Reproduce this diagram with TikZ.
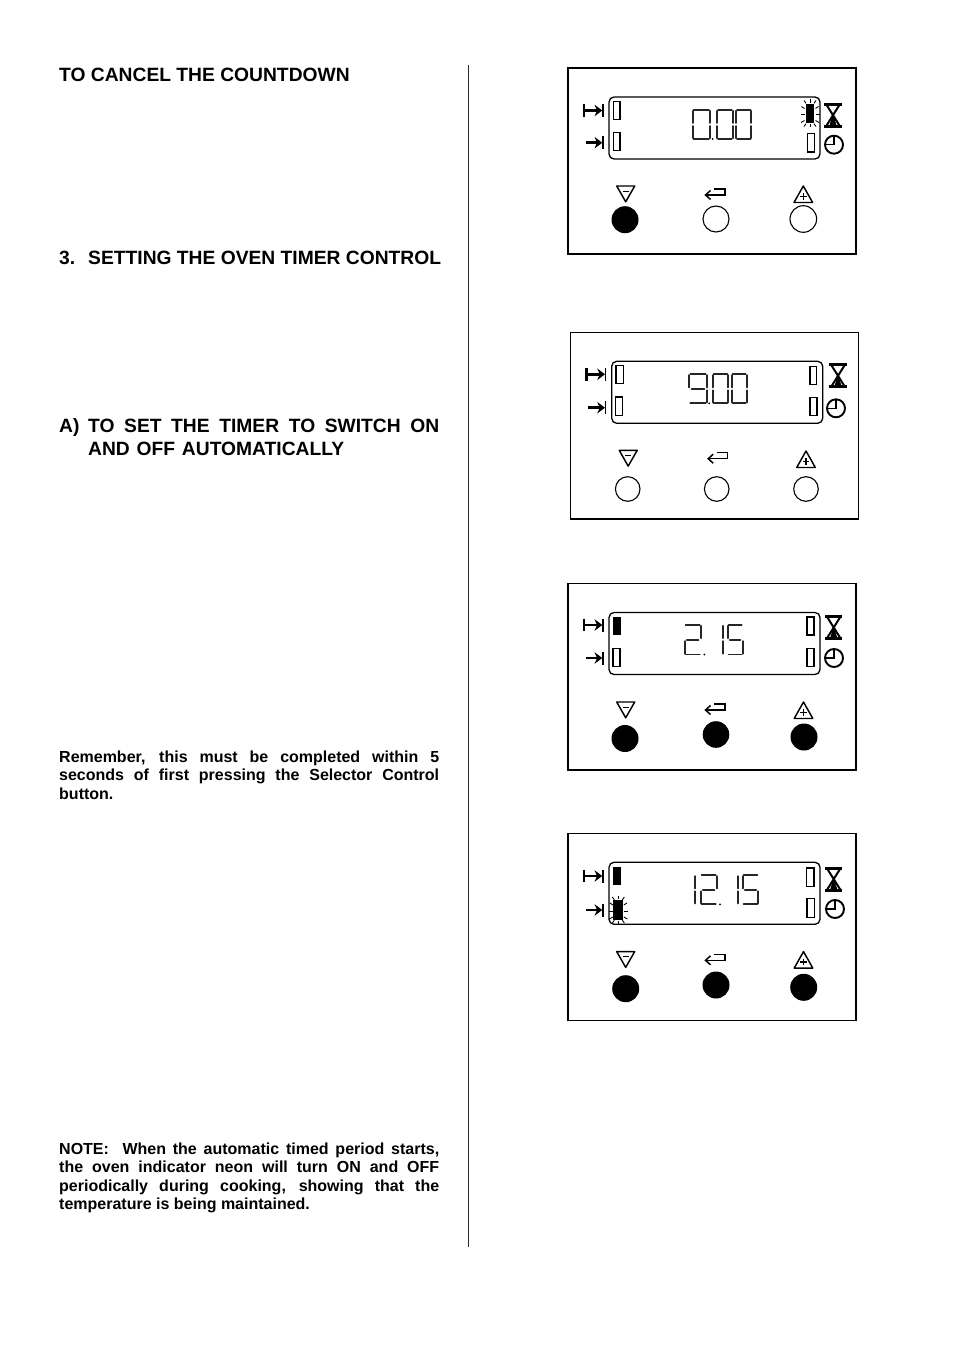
\documentclass[tikz,border=0pt]{standalone}
\usepackage{fontspec}
\setmainfont{Liberation Sans}
\tikzset{
  thinline/.style={line width=.85pt,black!85},
  segline/.style={line width=1.9pt,black!85,line cap=round},
  panelbox/.style={line width=1.35pt,black},
  lcdbox/.style={line width=1.3pt,black,rounded corners=5pt},
  heading/.style={inner sep=0pt,anchor=base west,font=\fontsize{19.25}{24}\selectfont\bfseries},
  bodytext/.style={inner sep=0pt,anchor=north west,align=left,font=\fontsize{16}{18.45}\selectfont\bfseries}
}
% seven-segment parts
\newcommand\segA{\draw[segline] (\xa+1,\ya)--(\xb-1,\ya);}
\newcommand\segB{\draw[segline] (\xb,\ya+.9)--(\xb,\ym-1.5);}
\newcommand\segC{\draw[segline] (\xb,\ym+1.5)--(\xb,\yb-.9);}
\newcommand\segD{\draw[segline] (\xa+1,\yb)--(\xb-1,\yb);}
\newcommand\segE{\draw[segline] (\xa,\ym+1.5)--(\xa,\yb-.9);}
\newcommand\segF{\draw[segline] (\xa,\ya+.9)--(\xa,\ym-1.5);}
\newcommand\segG{\draw[segline] (\xa+2.2,\ym)--(\xb-2.2,\ym);}
\newcommand\sdigit[3]{\def\xa{#1}\def\xb{#2}#3}
\newcommand\dZero{\segA\segB\segC\segD\segE\segF}
\newcommand\dOne{\segB\segC}
\newcommand\dTwo{\segA\segB\segG\segE\segD}
\newcommand\dFive{\segA\segF\segG\segC\segD}
\newcommand\dNine{\segA\segB\segC\segD\segF\segG}
\newcommand\dotmark[1]{\fill (#1,\yb) circle[radius=1pt];}
% panel parts
\newcommand\casing[1]{\draw[panelbox] (0,0) rectangle (288,#1);}
\newcommand\lcd{\draw[lcdbox] (41,29) rectangle (252,91);}
\newcommand\indic[5][1.2pt]{\draw[line width=#1] (#2,#3) rectangle (#4,#5);}
\newcommand\indicfull[4]{\fill (#1,#2) rectangle (#3,#4);}
\newcommand\flash[4]{%
  \fill (#1-.6,#2) rectangle (#3+.6,#4);
  \begin{scope}[shift={({(#1+#3)/2},{(#2+#4)/2})},line width=.9pt]
    \foreach \ix/\iy/\ox/\oy in {-4/-10.2/-6/-13, 0/-10.8/0/-14, 4/-10.2/6/-13,
      -5.5/-5/-8.5/-7, -5.5/1/-9.5/1, -5.5/7/-9/9,
      5.5/-5/8.5/-7, 5.5/1/9.5/1, 5.5/7/9/9,
      -4/10.2/-6/13, 0/10.8/0/14, 4/10.2/6/13}
      {\draw (\ix,\iy)--(\ox,\oy);}
  \end{scope}}
\newcommand\arrowTip[1]{%
  \fill (26.5,#1-5.8)--(34.3,#1)--(26.5,#1+5.8)--(29,#1)--cycle;
  \draw[line width=1.1pt] (35,#1-6.5)--(35,#1+6.5);}
\newcommand\topArrow[1]{%
  \draw[line width=2.6pt] (15.8,#1-6.3)--(15.8,#1+6.3);
  \draw[line width=2.5pt] (15.5,#1)--(32,#1);
  \arrowTip{#1}}
\newcommand\lowArrow[1]{%
  \draw[line width=2.5pt] (17.5,#1)--(32,#1);
  \arrowTip{#1}}
\newcommand\hourglass[2]{%
  \begin{scope}[shift={(#1,#2)}]
    \draw[line width=3pt] (0,1.5)--(17.4,1.5) (0,23.5)--(17.4,23.5);
    \draw[line width=2pt] (1.5,1)--(15.9,24) (15.9,1)--(1.5,24);
    \fill (8.7,11)--(12.6,24)--(4.8,24)--cycle;
  \end{scope}}
\newcommand\clockface[2]{%
  \draw[line width=1.9pt] (#1,#2) circle[radius=9pt];
  \draw[line width=1.5pt] (#1,#2-9)--(#1,#2)--(#1-9,#2);}
\newcommand\minusTri[2]{%
  \draw[line width=1.45pt,line join=round] (#1-9,#2)--(#1+9,#2)--(#1,#2+15.8)--cycle;
  \draw[line width=1.3pt] (#1-3,#2+5.2)--(#1+3,#2+5.2);}
\newcommand\plusTri[2]{%
  \draw[line width=1.45pt,line join=round] (#1-9.3,#2+16.5)--(#1+9.3,#2+16.5)--(#1,#2)--cycle;
  \draw[line width=1.3pt] (#1-3.2,#2+10.3)--(#1+3.2,#2+10.3) (#1,#2+7)--(#1,#2+13.6);}
\newcommand\returnKey[1]{%
  \draw[line width=1.5pt] (146,#1)--(157,#1)--(157,#1+6)--(137.5,#1+6);
  \draw[line width=1.5pt] (142.5,#1+1.5)--(137.5,#1+6)--(142.5,#1+10.5);}
\newcommand\btn[3]{\draw[line width=1.1pt] (#1,#2) circle[radius=#3pt];}
\newcommand\btnon[3]{\fill (#1,#2) circle[radius=#3pt];}
\begin{document}
\begin{tikzpicture}[x=1pt,y=-1pt]
\fill[white] (0,0) rectangle (954,1351);
\useasboundingbox (0,0) rectangle (954,1351);
% left column
\node[heading] (t1) at (59,81.5) {TO CANCEL THE COUNTDOWN};
\node[heading] (t2a) at (59,264) {3.};
\node[heading] (t2b) at (88,264) {SETTING THE OVEN TIMER CONTROL};
\node[heading] (t3a) at (59,432) {A)};
\node[heading] (t3b) at (88,432) {\makebox[351pt][s]{TO SET THE TIMER TO SWITCH ON}};
\node[heading] (t3c) at (88,455.5) {\makebox[256pt][s]{AND OFF AUTOMATICALLY}};
\node[bodytext] (t4) at (59,750.5) {\makebox[380pt][s]{Remember, this must be completed within 5}\\
  \makebox[380pt][s]{seconds of first pressing the Selector Control}\\
  button.};
\node[bodytext] (t5) at (59,1142.5) {\makebox[380pt][s]{NOTE:\ \ When the automatic timed period starts,}\\
  \makebox[380pt][s]{the oven indicator neon will turn ON and OFF}\\
  \makebox[380pt][s]{periodically during cooking, showing that the}\\
  temperature is being maintained.};
\draw[thinline] (468,65)--(468,1247);
% panel 1
\begin{scope}[shift={(568,68)}]
  \casing{186}\lcd
  \indic{45.5}{33.7}{52}{51.3}
  \indic[1.6pt]{45.5}{64.7}{52}{82.7}
  \flash{238.7}{36.3}{245.3}{54.7}
  \indic[1.4pt]{239.5}{65.3}{246.5}{84}
  \def\ya{42}\def\yb{71}\def\ym{56.5}
  \sdigit{124.7}{142}{\dZero}\dotmark{144.5}
  \sdigit{149}{164.7}{\dZero}
  \sdigit{168}{183.3}{\dZero}
  \topArrow{42.5}\lowArrow{74.7}
  \hourglass{256.3}{34.7}\clockface{266}{76.7}
  \minusTri{57.7}{118}\returnKey{121}\plusTri{235.3}{118}
  \btnon{57}{151.7}{13.5}\btn{148}{151}{13}\btn{235.3}{151}{13.3}
\end{scope}
% panel 2
\begin{scope}[shift={(570.7,332.3)}]
  \casing{186.7}\lcd
  \indic[1.6pt]{45.3}{33}{52.6}{51}
  \indic{45}{64.7}{52}{83}
  \indic{239.3}{34.4}{246}{52.4}
  \indic[1.6pt]{239.3}{65}{246}{83}
  \def\ya{42}\def\yb{71}\def\ym{56.5}
  \sdigit{118.6}{136}{\dNine}\dotmark{138.5}
  \sdigit{142}{157.6}{\dZero}
  \sdigit{161}{176}{\dZero}
  \topArrow{42}\lowArrow{75.4}
  \hourglass{258.6}{31}\clockface{265.3}{76}
  \minusTri{57.5}{118}\returnKey{120.4}\plusTri{235.3}{118.7}
  \btn{57}{156.7}{12.3}\btn{146}{156.7}{12.3}\btn{235.3}{156.7}{12.3}
\end{scope}
% panel 3
\begin{scope}[shift={(568,583.5)}]
  \casing{186.5}\lcd
  \indicfull{45}{33.5}{53}{51.5}
  \indic[1.6pt]{45}{65}{52}{83}
  \indic[1.4pt]{239}{33.5}{246}{51.5}
  \indic[1.6pt]{239}{65}{246}{83}
  \def\ya{41.5}\def\yb{71}\def\ym{56.2}
  \sdigit{116.7}{132.7}{\dTwo}\dotmark{136.3}
  \sdigit{154.7}{154.7}{\dOne}
  \sdigit{159.7}{174.7}{\dFive}
  \topArrow{41.5}\lowArrow{74.5}
  \hourglass{257}{31.5}\clockface{266}{74.5}
  \minusTri{57.7}{118.5}\returnKey{120.5}\plusTri{235.5}{118.5}
  \btnon{57}{155}{13.5}\btnon{148}{151}{13.3}\btnon{236}{153.5}{13.5}
\end{scope}
% panel 4
\begin{scope}[shift={(568,833.3)}]
  \casing{187}\lcd
  \indicfull{45.3}{34}{53}{51.7}
  \flash{46}{66.7}{54.7}{86.7}
  \indic[1.4pt]{238.7}{34.7}{246}{53}
  \indic[1.4pt]{239}{65}{246.3}{84}
  \def\ya{42}\def\yb{71}\def\ym{56.5}
  \sdigit{127}{127}{\dOne}
  \sdigit{132.7}{148.7}{\dTwo}\dotmark{152}
  \sdigit{169.7}{169.7}{\dOne}
  \sdigit{174.7}{190.3}{\dFive}
  \topArrow{42.7}\lowArrow{76.7}
  \hourglass{257}{33.3}\clockface{267}{75.7}
  \minusTri{57.7}{118.3}\returnKey{121}\plusTri{235.5}{118.3}
  \btnon{57.7}{155.4}{13.5}\btnon{148}{151.7}{13.5}\btnon{235.7}{154}{13.5}
\end{scope}
\end{tikzpicture}
\end{document}
